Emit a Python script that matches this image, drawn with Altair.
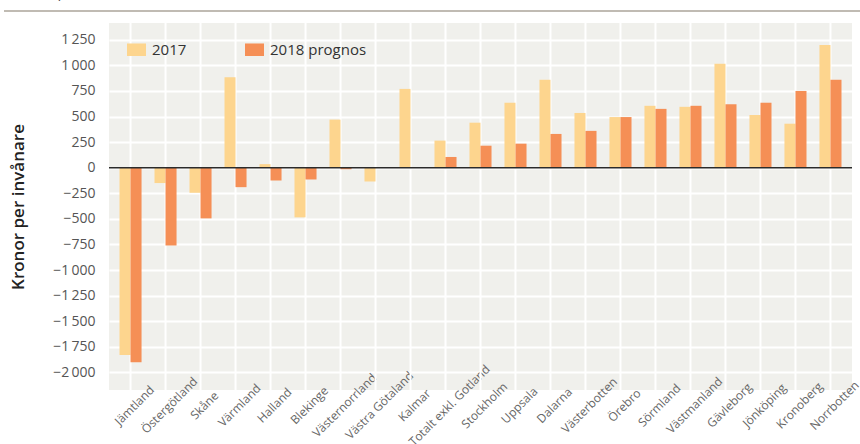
import altair as alt
import pandas as pd

regions = ["Jämtland", "Östergötland", "Skåne", "Värmland", "Halland", "Blekinge",
           "Västernorrland", "Västra Götaland", "Kalmar", "Totalt exkl. Gotland",
           "Stockholm", "Uppsala", "Dalarna", "Västerbotten", "Örebro", "Sörmland",
           "Västmanland", "Gävleborg", "Jönköping", "Kronoberg", "Norrbotten"]
v2017 = [-1830, -150, -245, 885, 35, -485, 470, -135, 770, 265,
         440, 635, 860, 535, 495, 605, 595, 1015, 515, 430, 1200]
v2018 = [-1900, -760, -495, -190, -125, -115, -15, 0, 0, 105,
         215, 235, 330, 360, 495, 575, 605, 620, 635, 750, 860]
series = ["2017", "2018 prognos"]
colors = ["#fdd58e", "#f58f56"]
yticks = list(range(-2000, 1251, 250))
ytitle = "Kronor per invånare"

rows = []
for r, a, b in zip(regions, v2017, v2018):
    rows.append({"region": r, "serie": series[0], "value": a})
    rows.append({"region": r, "serie": series[1], "value": b})
df = pd.DataFrame(rows)

FONT = "Open Sans"
xscale = alt.Scale(domain=regions, paddingInner=0.37, paddingOuter=0.3)
yscale = alt.Scale(domain=[-2172, 1414], nice=False, zero=False)
yaxis = alt.Axis(values=yticks, labelOverlap=False, labelBound=False,
                 labelExpr="replace(format(datum.value, ','), regexp(',', 'g'), '\u2009')",
                 ticks=False, domain=False, grid=True, gridColor="white", gridWidth=2,
                 labelPadding=14, labelFont=FONT, labelFontSize=14, labelColor="#555555",
                 titleFont=FONT, titleFontSize=17, titleFontWeight=600,
                 titleColor="#222222", titlePadding=25)
yenc = alt.Y("value:Q", title=ytitle, scale=yscale, axis=yaxis)

grid_v = alt.Chart(pd.DataFrame({"region": regions})).mark_rule(
    color="white", strokeWidth=2).encode(
    x=alt.X("region:N", sort=regions, scale=xscale, title=None))

bars = alt.Chart(df).mark_bar().encode(
    x=alt.X("region:N", sort=regions, title=None, scale=xscale,
            axis=alt.Axis(labelAngle=-45, labelAlign="center", labelBaseline="middle",
                          labelOffset=4, labelPadding=15, ticks=False, domain=False,
                          grid=False, labelOverlap=False, labelBound=False,
                          labelFont=FONT, labelFontSize=12, labelColor="#666666")),
    xOffset=alt.XOffset("serie:N", sort=series),
    y=yenc,
    color=alt.Color("serie:N", sort=series,
                    scale=alt.Scale(domain=series, range=colors),
                    legend=alt.Legend(title=None, orient="none", legendX=18, legendY=17,
                                      direction="horizontal", padding=0,
                                      symbolType="M-1,-0.66H1V0.66H-1Z", symbolSize=361,
                                      symbolStrokeWidth=0, symbolOpacity=1,
                                      labelFont=FONT, labelFontSize=15, labelColor="#333333",
                                      labelOffset=6, columnPadding=58)),
)

zero = alt.Chart(pd.DataFrame({"value": [0]})).mark_rule(
    color="#2b2b2b", strokeWidth=1.5).encode(y=yenc)

header_line = alt.Chart(pd.DataFrame({"a": [0]})).mark_rule(
    color="#c0bbb3", strokeWidth=2).encode(
    x=alt.value(-105), x2=alt.value(751), y=alt.value(-12))

header_text = alt.Chart(pd.DataFrame({"t": [ytitle]})).mark_text(
    align="left", baseline="alphabetic", font=FONT, fontSize=15, color="#555555").encode(
    x=alt.value(-104), y=alt.value(-26), text="t:N")

chart = alt.layer(grid_v, bars, zero, header_line, header_text).properties(
    width=743, height=367,
    autosize=alt.AutoSizeParams(type="none"),
    padding={"left": 109, "top": 23, "right": 8, "bottom": 54},
    background="white",
).configure_view(fill="#f0f0ec", stroke=None)

chart.save("out.html", embed_options={"renderer": "svg", "actions": False})
